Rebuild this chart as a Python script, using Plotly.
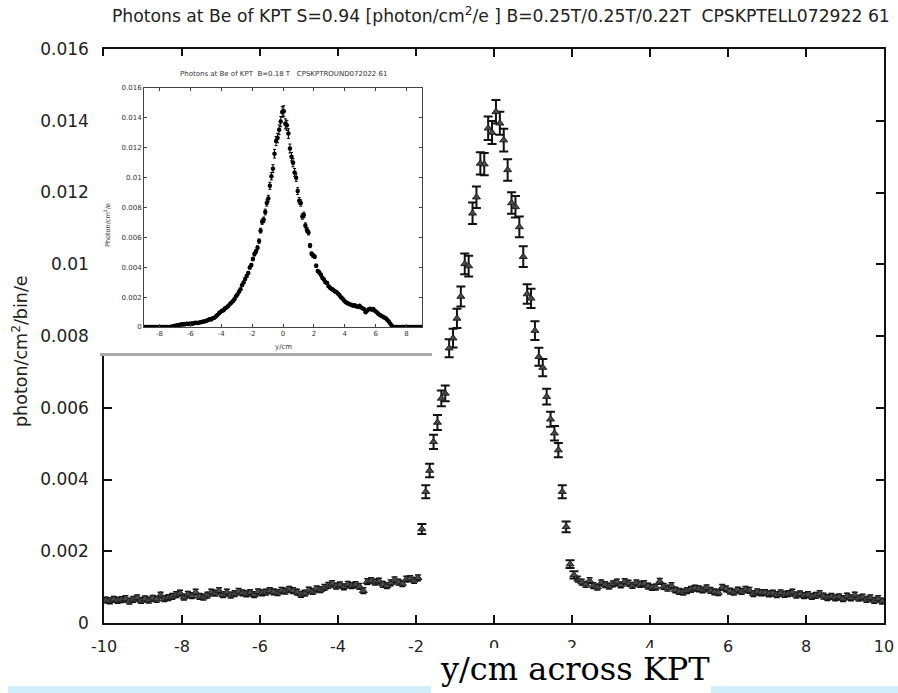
import plotly.graph_objects as go

W, H = 898, 693

# ---------------- text ----------------
MAIN_TITLE = ("Photons at Be of KPT S=0.94 [photon/cm<sup>2</sup>/e ] "
              "B=0.25T/0.25T/0.22T\u00a0\u00a0CPSKPTELL072922 61")
MAIN_YLABEL = "photon/cm<sup>2</sup>/bin/e"
MAIN_XLABEL = "y/cm across KPT"
INSET_TITLE = "Photons at Be of KPT\u00a0\u00a0B=0.18 T\u00a0\u00a0\u00a0CPSKPTROUND072022 61"
INSET_YLABEL = "Photon/cm<sup>2</sup>/e"
INSET_XLABEL = "y/cm"

MAIN_XTICKS = [-10, -8, -6, -4, -2, 0, 2, 4, 6, 8, 10]
MAIN_XTICKTEXT = ["-10", "-8", "-6", "-4", "-2", "0", "2", "4", "6", "8", "10"]
MAIN_YTICKS = [0, 0.002, 0.004, 0.006, 0.008, 0.01, 0.012, 0.014, 0.016]
MAIN_YTICKTEXT = ["0", "0.002", "0.004", "0.006", "0.008", "0.01", "0.012", "0.014", "0.016"]
INSET_XTICKS = [-8, -6, -4, -2, 0, 2, 4, 6, 8]
INSET_XTICKTEXT = ["-8", "-6", "-4", "-2", "0", "2", "4", "6", "8"]

# ---------------- data (main) ----------------
BIN_WIDTH = 0.1

left_base_start = -9.95
left_base = [0.00064, 0.00062, 0.00066, 0.00063, 0.00065, 0.00068, 0.00061, 0.00066, 0.00070, 0.00063,
             0.00067, 0.00064, 0.00069, 0.00066, 0.00078, 0.00068, 0.00071, 0.00074, 0.00079, 0.00083,
             0.00072, 0.00080, 0.00076, 0.00086, 0.00074, 0.00072, 0.00078, 0.00086, 0.00083, 0.00090,
             0.00079, 0.00086, 0.00078, 0.00082, 0.00088, 0.00084, 0.00081, 0.00085, 0.00079, 0.00087,
             0.00084, 0.00086, 0.00090, 0.00087, 0.00085, 0.00091, 0.00089, 0.00094, 0.00090, 0.00086,
             0.00080, 0.00083, 0.00092, 0.00088, 0.00095, 0.00093, 0.00099, 0.00105, 0.00110, 0.00103,
             0.00106, 0.00101, 0.00108, 0.00104, 0.00107, 0.00102, 0.00090, 0.00115, 0.00118, 0.00114,
             0.00117, 0.00108, 0.00104, 0.00112, 0.00120, 0.00114, 0.00110, 0.00122, 0.00124, 0.00119,
             0.00126]

rise_start = -1.85
rise = [0.00262, 0.00366, 0.00425, 0.00505, 0.00559, 0.00626, 0.00640, 0.00766, 0.00794, 0.00849,
        0.00910, 0.01001, 0.00995, 0.01142, 0.01187, 0.01281, 0.01279, 0.01379, 0.01367]
rise_err = [0.00014, 0.00018, 0.00019, 0.00020, 0.00021, 0.00022, 0.00022, 0.00025, 0.00026, 0.00027,
            0.00028, 0.00029, 0.00029, 0.00030, 0.00030, 0.00031, 0.00031, 0.00033, 0.00032]

fall_start = 0.05
fall = [0.01425, 0.01393, 0.01346, 0.01263, 0.01171, 0.01160, 0.01104, 0.01021, 0.00917, 0.00905,
        0.00815, 0.00742, 0.00712, 0.00631, 0.00568, 0.00529, 0.00482, 0.00366, 0.00268, 0.00164,
        0.00134]
fall_err = [0.00033, 0.00032, 0.00032, 0.00030, 0.00030, 0.00030, 0.00029, 0.00029, 0.00027, 0.00027,
            0.00026, 0.00025, 0.00024, 0.00022, 0.00021, 0.00020, 0.00020, 0.00018, 0.00015, 0.00011,
            0.00010]

right_base_start = 2.15
right_base = [0.00122, 0.00114, 0.00108, 0.00118, 0.00104, 0.00100, 0.00112, 0.00107, 0.00103, 0.00109,
              0.00114, 0.00106, 0.00115, 0.00111, 0.00105, 0.00112, 0.00108, 0.00110, 0.00103, 0.00099,
              0.00100, 0.00116, 0.00102, 0.00097, 0.00104, 0.00092, 0.00088, 0.00086, 0.00090, 0.00094,
              0.00097, 0.00095, 0.00092, 0.00098, 0.00091, 0.00087, 0.00085, 0.00099, 0.00095, 0.00089,
              0.00086, 0.00092, 0.00088, 0.00094, 0.00091, 0.00082, 0.00087, 0.00084, 0.00085, 0.00081,
              0.00083, 0.00079, 0.00084, 0.00080, 0.00082, 0.00086, 0.00078, 0.00081, 0.00076, 0.00079,
              0.00074, 0.00077, 0.00082, 0.00075, 0.00071, 0.00074, 0.00070, 0.00073, 0.00068, 0.00075,
              0.00070, 0.00078, 0.00069, 0.00072, 0.00066, 0.00070, 0.00063, 0.00068, 0.00061]
BASE_ERR = 0.00008

# ---------------- data (inset) ----------------
inset_start = -8.95
inset_vals = [0, 0, 0, 0, 0, 0, 0, 0, 0, 0, 0, 0, 0, 0, 0, 0, 0,
              0.00002, 0.00004, 0.00006, 0.00008, 0.00011, 0.00013, 0.00015, 0.00018, 0.00016, 0.00019,
              0.00021, 0.00020, 0.00022, 0.00024, 0.00021, 0.00026, 0.00028, 0.00027, 0.00029, 0.00031,
              0.00033, 0.00036, 0.00039, 0.00042, 0.00047, 0.00052, 0.00050, 0.00058, 0.00062, 0.00070,
              0.00081, 0.00092, 0.00101, 0.00108, 0.00112, 0.00125, 0.00131, 0.00140, 0.00152, 0.00163,
              0.00172, 0.00185, 0.00204, 0.00218, 0.00236, 0.00252, 0.00280, 0.00298, 0.00322, 0.00342,
              0.00362, 0.00398, 0.00415, 0.00455, 0.00488, 0.00505, 0.00530, 0.00575, 0.00645, 0.00705,
              0.00718, 0.00770, 0.00830, 0.00860, 0.00945, 0.01010, 0.01060, 0.01160, 0.01245, 0.01265,
              0.01320, 0.01375, 0.01440, 0.01445, 0.01360, 0.01350, 0.01295, 0.01195, 0.01140, 0.01100,
              0.01035, 0.01000, 0.00910, 0.00845, 0.00830, 0.00740, 0.00750, 0.00680, 0.00650, 0.00632,
              0.00545, 0.00490, 0.00478, 0.00470, 0.00410, 0.00375, 0.00365, 0.00350, 0.00330, 0.00318,
              0.00300, 0.00295, 0.00272, 0.00262, 0.00255, 0.00250, 0.00240, 0.00235, 0.00225, 0.00215,
              0.00200, 0.00190, 0.00178, 0.00168, 0.00160, 0.00155, 0.00150, 0.00148, 0.00142, 0.00146,
              0.00138, 0.00135, 0.00142, 0.00130, 0.00125, 0.00118, 0.00098, 0.00110, 0.00118, 0.00122,
              0.00116, 0.00120, 0.00108, 0.00100, 0.00090, 0.00082, 0.00075, 0.00070, 0.00064, 0.00058,
              0.00048, 0.00036, 0.00022, 0.00008,
              0, 0, 0, 0, 0, 0, 0, 0, 0, 0, 0, 0, 0, 0, 0, 0, 0, 0, 0]
INSET_ERR_PERCENT = 2.5


def centers(start, n):
    return [round(start + i * BIN_WIDTH, 2) for i in range(n)]


def pxx(x):
    return x / W


def pxy(y):
    return 1 - y / H


SANS = "DejaVu Sans, Liberation Sans, Arial"

fig = go.Figure()

base_x = centers(left_base_start, len(left_base)) + centers(right_base_start, len(right_base))
base_y = left_base + right_base
peak_x = centers(rise_start, len(rise)) + centers(fall_start, len(fall))
peak_y = rise + fall
peak_e = rise_err + fall_err

marker_main = dict(symbol="triangle-up", size=7, color="#4a4a4a",
                   line=dict(color="#1e1e1e", width=1))

fig.add_trace(go.Scatter(
    x=base_x, y=base_y, mode="markers", xaxis="x", yaxis="y",
    marker=marker_main,
    error_y=dict(type="constant", value=BASE_ERR, color="#111", thickness=1.5, width=3),
    hoverinfo="skip", showlegend=False))
fig.add_trace(go.Scatter(
    x=peak_x, y=peak_y, mode="markers", xaxis="x", yaxis="y",
    marker=marker_main,
    error_y=dict(type="data", array=peak_e, color="#111", thickness=2, width=4.5),
    hoverinfo="skip", showlegend=False))

# cover subplot (white box under the inset)
fig.add_trace(go.Scatter(x=[], y=[], xaxis="x2", yaxis="y2", showlegend=False, hoverinfo="skip"))

# inset data
fig.add_trace(go.Scatter(
    x=centers(inset_start, len(inset_vals)), y=inset_vals, mode="markers",
    xaxis="x3", yaxis="y3",
    marker=dict(symbol="circle", size=4.5, color="#000"),
    error_y=dict(type="percent", value=INSET_ERR_PERCENT, color="#000", thickness=1, width=1.5),
    hoverinfo="skip", showlegend=False))

fig.update_layout(
    width=W, height=H, margin=dict(l=0, r=0, t=0, b=0, autoexpand=False),
    paper_bgcolor="white", plot_bgcolor="rgba(0,0,0,0)",
    showlegend=False,
    xaxis=dict(domain=[pxx(104), pxx(884)], range=[-10, 10], anchor="y", automargin=False,
               tickvals=MAIN_XTICKS, ticktext=MAIN_XTICKTEXT,
               showline=True, mirror="ticks", linecolor="#111", linewidth=1.5,
               ticks="inside", ticklen=8, tickwidth=1.5, tickcolor="#111",
               ticklabelstandoff=8,
               showgrid=False, zeroline=False,
               tickfont=dict(family=SANS, size=16, color="#222")),
    yaxis=dict(domain=[pxy(623), pxy(49)], range=[0, 0.016], anchor="x", automargin=False,
               tickvals=MAIN_YTICKS, ticktext=MAIN_YTICKTEXT,
               showline=True, mirror="ticks", linecolor="#111", linewidth=1.5,
               ticks="inside", ticklen=8, tickwidth=1.5, tickcolor="#111",
               ticklabelstandoff=10,
               showgrid=False, zeroline=False,
               tickfont=dict(family=SANS, size=17, color="#222")),
    xaxis2=dict(domain=[pxx(100), pxx(432)], range=[0, 1], anchor="y2", visible=False,
                automargin=False),
    yaxis2=dict(domain=[pxy(356), pxy(56)], range=[0, 1], anchor="x2", visible=False,
                automargin=False),
    xaxis3=dict(domain=[pxx(144), pxx(422)], range=[-9, 9], anchor="y3", automargin=False,
                tickvals=INSET_XTICKS, ticktext=INSET_XTICKTEXT,
                showline=True, mirror="ticks", linecolor="#444", linewidth=1,
                ticks="inside", ticklen=3, tickwidth=1, tickcolor="#444",
                showgrid=False, zeroline=False,
                tickfont=dict(family=SANS, size=7, color="#333")),
    yaxis3=dict(domain=[pxy(327), pxy(88)], range=[0, 0.016], anchor="x3", automargin=False,
                tickvals=MAIN_YTICKS, ticktext=MAIN_YTICKTEXT,
                showline=True, mirror="ticks", linecolor="#444", linewidth=1,
                ticks="inside", ticklen=3, tickwidth=1, tickcolor="#444",
                showgrid=False, zeroline=False,
                tickfont=dict(family=SANS, size=7, color="#333")),
)

shapes = [
    dict(type="rect", xref="x2", yref="y2", x0=0, x1=1, y0=0, y1=1,
         fillcolor="white", line=dict(width=0), layer="below"),
    dict(type="line", xref="paper", yref="paper", x0=pxx(100), x1=pxx(432),
         y0=pxy(354.5), y1=pxy(354.5), line=dict(color="#aaaaaa", width=3), layer="above"),
    # white box of the pasted x label (clips the lower part of nearby tick labels)
    dict(type="rect", xref="paper", yref="paper", x0=pxx(432), x1=pxx(711),
         y0=0, y1=pxy(648), fillcolor="white", line=dict(width=0), layer="above"),
    dict(type="rect", xref="paper", yref="paper", x0=pxx(8), x1=pxx(431),
         y0=0, y1=pxy(686), fillcolor="#d3eefb", line=dict(width=0), layer="above"),
    dict(type="rect", xref="paper", yref="paper", x0=pxx(711), x1=1,
         y0=0, y1=pxy(686), fillcolor="#d3eefb", line=dict(width=0), layer="above"),
]
fig.update_layout(shapes=shapes)

annotations = [
    dict(text=MAIN_TITLE, x=pxx(501), y=pxy(15), xref="paper", yref="paper",
         xanchor="center", yanchor="middle", showarrow=False,
         font=dict(family=SANS, size=17.2, color="#222")),
    dict(text=MAIN_YLABEL, x=pxx(20), y=pxy(351), xref="paper", yref="paper",
         xanchor="center", yanchor="middle", showarrow=False, textangle=-90,
         font=dict(family=SANS, size=17.5, color="#222")),
    dict(text=MAIN_XLABEL, x=pxx(575), y=pxy(669), xref="paper", yref="paper",
         xanchor="center", yanchor="middle", showarrow=False,
         font=dict(family="DejaVu Serif, Liberation Serif, serif", size=32, color="#000")),
    dict(text=INSET_TITLE, x=pxx(283), y=pxy(74), xref="paper", yref="paper",
         xanchor="center", yanchor="middle", showarrow=False,
         font=dict(family=SANS, size=7, color="#333")),
    dict(text=INSET_XLABEL, x=pxx(283), y=pxy(347), xref="paper", yref="paper",
         xanchor="center", yanchor="middle", showarrow=False,
         font=dict(family=SANS, size=7, color="#333")),
    dict(text=INSET_YLABEL, x=pxx(107), y=pxy(225), xref="paper", yref="paper",
         xanchor="center", yanchor="middle", showarrow=False, textangle=-90,
         font=dict(family=SANS, size=6.5, color="#333")),
]
fig.update_layout(annotations=annotations)

fig.write_html("out.html", config={"displayModeBar": False},
               post_script="document.body.style.margin='0px';")
